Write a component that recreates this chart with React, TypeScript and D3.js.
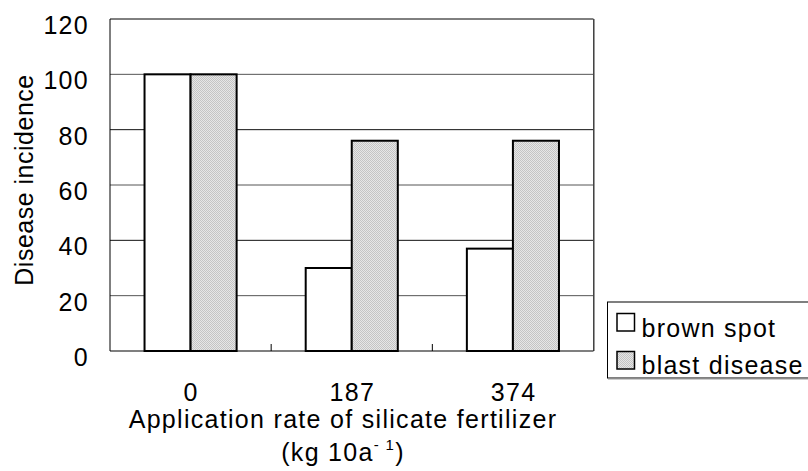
import React from "react";
import * as d3 from "d3";

const categories = ["0", "187", "374"];
const seriesNames = ["brown spot", "blast disease"];
const brownSpot = [100, 30, 37];
const blastDisease = [100, 76, 76];
const yTicks = [0, 20, 40, 60, 80, 100, 120];

const W = 808;
const H = 471;
const margin = { left: 110, top: 19, right: 214.5, bottom: 120 };
const FONT = "'Liberation Sans', Arial, sans-serif";
const FS = 25;
const LS = 1.3;

export default function App() {
  const x0 = margin.left;
  const x1 = W - margin.right;
  const y0 = H - margin.bottom;
  const y1 = margin.top;

  const x = d3.scaleBand<string>().domain(categories).range([x0, x1]).paddingInner(0).paddingOuter(0);
  const y = d3.scaleLinear().domain([0, 120]).range([y0, y1]);
  const inner = d3.scaleBand<number>().domain([0, 1]).range([0, x.bandwidth()]).paddingInner(0).paddingOuter(0.5 * (161 - 92) / 46);

  const series = [brownSpot, blastDisease];
  const fills = ["#ffffff", "url(#dots)"];

  return (
    <svg width={W} height={H} style={{ position: "absolute", left: 0, top: 0, fontFamily: FONT }}>
      <defs>
        <pattern id="dots" width="2" height="2" patternUnits="userSpaceOnUse">
          <rect width="2" height="2" fill="#e6e6e6" />
          <rect width="1" height="1" fill="#c4c4c4" />
          <rect x="1" y="1" width="1" height="1" fill="#c4c4c4" />
        </pattern>
      </defs>
      <rect width={W} height={H} fill="#fff" />
      {/* gridlines */}
      {yTicks.filter((t) => t > 0 && t < 120).map((t) => (
        <line key={t} x1={x0} x2={x1} y1={y(t)} y2={y(t)} stroke={t === 80 || t === 40 ? "#111" : "#555"} strokeWidth={1} />
      ))}
      {/* top and right border */}
      <line x1={x0} x2={x1} y1={y1} y2={y1} stroke="#000" strokeWidth={1} />
      <line x1={x1 + 1} x2={x1 + 1} y1={y1} y2={y0} stroke="#999" strokeWidth={1} />
      <line x1={x1} x2={x1} y1={y1} y2={y0} stroke="#444" strokeWidth={1} />
      {/* bars */}
      {categories.map((c, i) => (
        <g key={c}>
          {series.map((s, j) => (
            <rect
              key={j}
              x={(x(c) as number) + (inner(j) as number)}
              y={y(s[i])}
              width={inner.bandwidth()}
              height={y0 - y(s[i])}
              fill={fills[j]}
              stroke="#000"
              strokeWidth={2}
            />
          ))}
        </g>
      ))}
      {/* axes */}
      <line x1={x0} x2={x0} y1={y1} y2={y0} stroke="#000" strokeWidth={1} />
      <line x1={x0} x2={x1} y1={y0} y2={y0} stroke="#000" strokeWidth={1.2} />
      {categories.slice(1).map((c) => (
        <line key={c} x1={x(c)} x2={x(c)} y1={y0} y2={y0 - 7} stroke="#000" strokeWidth={1} />
      ))}
      {/* y tick labels */}
      {yTicks.map((t) => (
        <text key={t} x={x0 - 21} y={y(t) + 15} textAnchor="end" fontSize={FS} letterSpacing={LS} fill="#000">
          {t}
        </text>
      ))}
      {/* x tick labels */}
      {categories.map((c) => (
        <text key={c} x={(x(c) as number) + x.bandwidth() / 2 + LS / 2} y={401} textAnchor="middle" fontSize={FS} letterSpacing={LS} fill="#000">
          {c}
        </text>
      ))}
      {/* axis titles */}
      <text x={343} y={428} textAnchor="middle" fontSize={FS} letterSpacing={LS} fill="#000">
        Application rate of silicate fertilizer
      </text>
      <text x={343} y={461} textAnchor="middle" fontSize={FS} letterSpacing={LS} fill="#000">
        (kg 10a
        <tspan dy={-11} fontSize={15}>- 1</tspan>
        <tspan dy={11}>)</tspan>
      </text>
      <text transform={`translate(33, 180) rotate(-90)`} textAnchor="middle" fontSize={FS} letterSpacing={0.5} fill="#000">
        Disease incidence
      </text>
      {/* legend */}
      <rect x={607.5} y={302} width={210} height={76} fill="#fff" stroke="#000" strokeWidth={1} />
      <line x1={608} x2={808} y1={379} y2={379} stroke="#999" strokeWidth={1} />
      {seriesNames.map((n, j) => (
        <g key={n}>
          <rect x={617} y={313.5 + j * 38} width={17.5} height={17.5} fill={fills[j]} stroke="#000" strokeWidth={1.5} />
          <text x={641.5} y={336.7 + j * 37.5} fontSize={FS} letterSpacing={1.25} fill="#000">
            {n}
          </text>
        </g>
      ))}
    </svg>
  );
}
